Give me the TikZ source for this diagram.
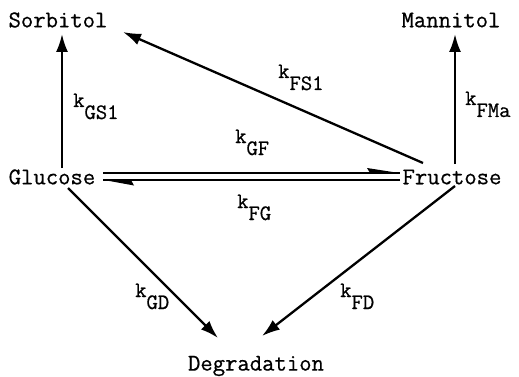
\documentclass[tikz,border=0pt]{standalone}
\usepackage{fontspec}
\newfontfamily\courfont{Latin Modern Mono}[FakeBold=0.6]
\usetikzlibrary{arrows.meta}
\newcommand\krate[1]{k\raisebox{-12pt}{#1}}
\begin{document}
\begin{tikzpicture}[x=1pt,y=-1pt,
  lbl/.style={font=\courfont\fontsize{24}{28}\selectfont, inner sep=0pt},
  rate/.style={font=\courfont\fontsize{22}{26}\selectfont, inner sep=0pt, anchor=base west},
  conn/.style={line width=2.3pt, -{Latex[length=18pt,width=12pt]}},
  dline/.style={line width=1.9pt},
  barb/.style={fill=black}]
\useasboundingbox (0,0) rectangle (519,377);
\node[lbl] (sor) at (58,20) {Sorbitol};
\node[lbl] (man) at (451,20) {Mannitol};
\node[lbl] (glu) at (52,177) {Glucose};
\node[lbl] (fru) at (452,177) {Fructose};
\node[lbl] (deg) at (256,366) {Degradation};
% connector ends
\coordinate (gluUp) at (62,168);
\coordinate (sorDn) at (62,34);
\coordinate (fruUp) at (455,164);
\coordinate (manDn) at (455,34);
\coordinate (fruNW) at (423,163);
\coordinate (sorE) at (123,32);
\coordinate (gluR1) at (103,173);
\coordinate (fruL1) at (400,173);
\coordinate (gluR2) at (103,180);
\coordinate (fruL2) at (400,180);
\coordinate (gluSE) at (68,188);
\coordinate (degNW) at (218,338);
\coordinate (fruSW) at (455,186);
\coordinate (degNE) at (262,336);
\draw[conn] (gluUp) -- (sorDn);
\draw[conn] (fruUp) -- (manDn);
\draw[conn] (fruNW) -- (sorE);
\draw[dline] (gluR1) -- (fruL1);
\fill[barb] ([xshift=-1pt]fruL1) -- ++(-32,-5) -- ++(3,5) -- cycle;
\draw[dline] (fruL2) -- (gluR2);
\fill[barb] ([xshift=1pt]gluR2) -- ++(30,5.5) -- ++(-3,-5.5) -- cycle;
\draw[conn] (gluSE) -- (degNW);
\draw[conn] (fruSW) -- (degNE);
% rate labels
\node[rate] (kgs) at (73,107) {\krate{GS1}};
\node[rate] (kfs) at (278,78) {\krate{FS1}};
\node[rate] (kfm) at (465,105) {\krate{FMa}};
\node[rate] (kgf) at (235,143) {\krate{GF}};
\node[rate] (kfg) at (237,208) {\krate{FG}};
\node[rate] (kgd) at (135,297) {\krate{GD}};
\node[rate] (kfd) at (340,297) {\krate{FD}};
\end{tikzpicture}
\end{document}
